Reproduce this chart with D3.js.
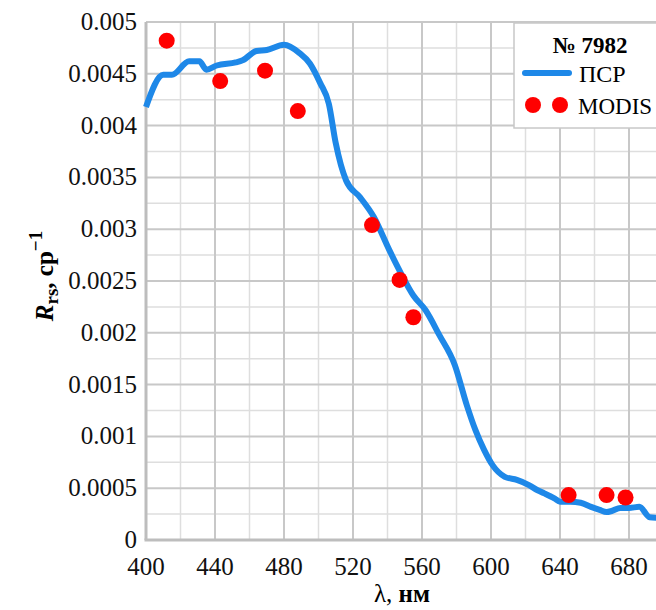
<!DOCTYPE html>
<html lang="ru">
<head>
<meta charset="utf-8">
<script src="https://cdn.jsdelivr.net/npm/d3@7"></script>
<style>
  body { margin: 0; background: #fff; }
  svg text { font-family: "Liberation Serif", "Times New Roman", "DejaVu Serif", serif; }
</style>
</head>
<body>
<div id="chart"></div>
<script>
// ПСР spectrum
const psrWave = [400, 410, 415, 425, 431, 435, 441, 452, 456, 464, 470, 480, 489, 495, 501, 506, 510, 516, 524, 532, 541, 547, 555, 562, 570, 579, 586, 591, 596, 601, 608, 615, 622, 627, 631, 637, 640, 646, 652, 658, 663, 667, 670, 675, 680, 686, 692, 700];
const psrVal  = [0.00418, 0.00449, 0.00449, 0.00462, 0.00462, 0.00454, 0.00458, 0.00461, 0.00463, 0.00472, 0.00473, 0.00478, 0.0047, 0.0046, 0.00441, 0.00421, 0.00383, 0.00347, 0.00331, 0.00312, 0.0028, 0.0026, 0.00236, 0.00222, 0.00198, 0.00169, 0.0013, 0.00106, 0.00087, 0.00072, 0.00061, 0.00058, 0.00053, 0.00048, 0.00045, 0.0004, 0.00037, 0.00037, 0.00036, 0.00032, 0.00029, 0.00027, 0.00028, 0.00031, 0.00031, 0.00032, 0.00022, 0.00021];

// MODIS bands
const modisWave = [412, 443, 469, 488, 531, 547, 555, 645, 667, 678];
const modisVal  = [0.00482, 0.00443, 0.00453, 0.00414, 0.00304, 0.00251, 0.00215, 0.000434, 0.000434, 0.00041];

const xTicks = [400, 440, 480, 520, 560, 600, 640, 680];
const yTicks = [0, 0.0005, 0.001, 0.0015, 0.002, 0.0025, 0.003, 0.0035, 0.004, 0.0045, 0.005];
const stationLabel = "№ 7982";

const W = 656, H = 610;
const margin = {left: 146, top: 22};
const plotW = 517.5, plotH = 518;
const blue = "#1e88e8", red = "#ff0000";
const serif = "'Liberation Serif', 'Times New Roman', 'DejaVu Serif', serif";

const svg = d3.select("#chart").append("svg")
  .attr("width", W).attr("height", H)
  .attr("font-family", serif);

const x = d3.scaleLinear().domain([400, 700]).range([margin.left, margin.left + plotW]);
const y = d3.scaleLinear().domain([0, 0.005]).range([margin.top + plotH, margin.top]);

// grid: minor then major
const g = svg.append("g");
g.selectAll(".vminor").data(d3.range(420, 700, 40)).join("line")
  .attr("x1", d => x(d)).attr("x2", d => x(d))
  .attr("y1", y(0)).attr("y2", y(0.005))
  .attr("stroke", "#dedede").attr("stroke-width", 1.5);
g.selectAll(".hminor").data(d3.range(0.00025, 0.005, 0.0005)).join("line")
  .attr("x1", x(400)).attr("x2", x(700))
  .attr("y1", d => y(d)).attr("y2", d => y(d))
  .attr("stroke", "#dedede").attr("stroke-width", 1.5);
g.selectAll(".vmajor").data(xTicks.slice(1)).join("line")
  .attr("x1", d => x(d)).attr("x2", d => x(d))
  .attr("y1", y(0)).attr("y2", y(0.005))
  .attr("stroke", "#c8c8c8").attr("stroke-width", 2);
g.selectAll(".hmajor").data(yTicks.slice(1)).join("line")
  .attr("x1", x(400)).attr("x2", x(700))
  .attr("y1", d => y(d)).attr("y2", d => y(d))
  .attr("stroke", "#c8c8c8").attr("stroke-width", 2);

// axes lines
svg.append("line").attr("x1", x(400)).attr("x2", x(400))
  .attr("y1", y(0)).attr("y2", y(0.005))
  .attr("stroke", "#bdbdbd").attr("stroke-width", 3);
svg.append("line").attr("x1", x(400) - 1.5).attr("x2", x(700))
  .attr("y1", y(0)).attr("y2", y(0))
  .attr("stroke", "#bdbdbd").attr("stroke-width", 3);

// tick labels
svg.append("g").selectAll("text").data(yTicks).join("text")
  .attr("x", margin.left - 9).attr("y", d => y(d) + 8)
  .attr("text-anchor", "end").attr("font-size", 25).attr("fill", "#111")
  .text(d => d === 0 ? "0" : d3.format("")(+d.toFixed(4)));
svg.append("g").selectAll("text").data(xTicks).join("text")
  .attr("x", d => x(d)).attr("y", y(0) + 35)
  .attr("text-anchor", "middle").attr("font-size", 25).attr("fill", "#111")
  .text(d => d);

// line
svg.append("path")
  .datum(d3.zip(psrWave, psrVal))
  .attr("fill", "none").attr("stroke", blue).attr("stroke-width", 6)
  .attr("stroke-linejoin", "round")
  .attr("d", d3.line().x(d => x(d[0])).y(d => y(d[1])).curve(d3.curveMonotoneX));

// points
svg.append("g").selectAll("circle").data(d3.zip(modisWave, modisVal)).join("circle")
  .attr("cx", d => x(d[0])).attr("cy", d => y(d[1])).attr("r", 8)
  .attr("fill", red);

// legend
const lg = svg.append("g");
lg.append("rect").attr("x", 514).attr("y", 23).attr("width", 160).attr("height", 105)
  .attr("fill", "#fff").attr("stroke", "#c8c8c8").attr("stroke-width", 1.5);
lg.append("text").attr("x", 590).attr("y", 53).attr("text-anchor", "middle")
  .attr("font-size", 23).attr("font-weight", "bold").text(stationLabel);
lg.append("line").attr("x1", 525).attr("x2", 569).attr("y1", 73).attr("y2", 73)
  .attr("stroke", blue).attr("stroke-width", 6).attr("stroke-linecap", "round");
lg.append("text").attr("x", 579).attr("y", 82).attr("font-size", 24).text("ПСР");
lg.selectAll("circle").data([533, 560]).join("circle")
  .attr("cx", d => d).attr("cy", 105).attr("r", 8).attr("fill", red);
lg.append("text").attr("x", 578).attr("y", 114).attr("font-size", 23).text("MODIS");

// axis titles
const xt = svg.append("text").attr("x", 402).attr("y", 602)
  .attr("text-anchor", "middle").attr("font-size", 25).attr("font-weight", "bold");
xt.append("tspan").attr("font-weight", "normal").text("λ, ");
xt.append("tspan").text("нм");

const yt = svg.append("text").attr("transform", "translate(53,276) rotate(-90)")
  .attr("text-anchor", "middle").attr("font-size", 25).attr("font-weight", "bold");
yt.append("tspan").attr("font-style", "italic").text("R");
yt.append("tspan").attr("font-size", 19).attr("dy", 5).text("rs");
yt.append("tspan").attr("dy", -5).text(", ср");
yt.append("tspan").attr("font-size", 19).attr("dy", -11).text("−1");
</script>
</body>
</html>
